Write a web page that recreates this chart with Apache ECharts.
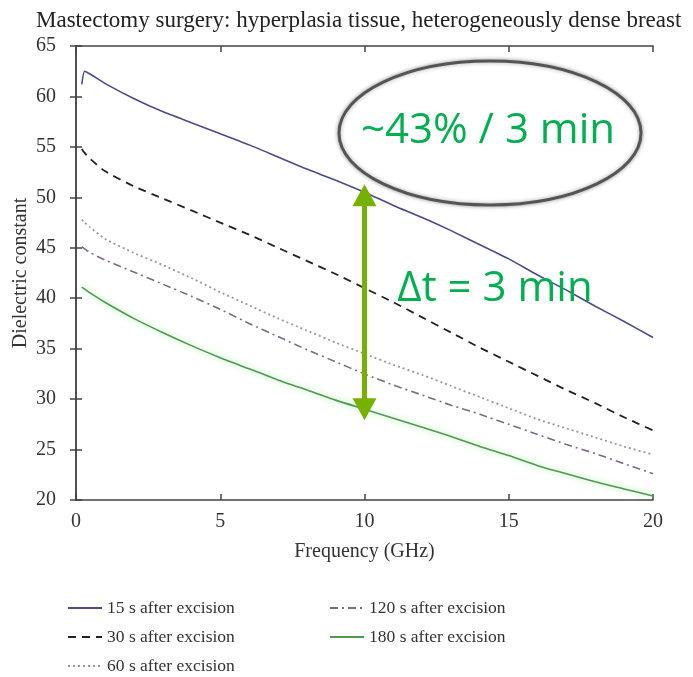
<!DOCTYPE html>
<html>
<head>
<meta charset="utf-8">
<script src="https://cdn.jsdelivr.net/npm/echarts@6/dist/echarts.min.js"></script>
<style>
  html, body { margin: 0; padding: 0; background: #fff; }
  #chart { width: 693px; height: 677px; }
</style>
</head>
<body>
<div id="chart"></div>
<script>
// frequency points (GHz)
var freq = [0.2, 0.3, 0.5, 1, 2, 3, 4, 5, 6, 7, 8, 9, 10, 11, 12, 13, 14, 15, 16, 17, 18, 19, 20]
// dielectric constant per time after excision
var s15 = [61.2, 62.5, 62.2, 61.3, 59.8, 58.5, 57.4, 56.3, 55.2, 54.0, 52.8, 51.7, 50.5, 49.2, 48.0, 46.7, 45.3, 43.9, 42.3, 40.8, 39.2, 37.7, 36.1]
var s30 = [54.8, 54.4, 53.8, 52.6, 51.1, 49.9, 48.7, 47.5, 46.3, 45.0, 43.7, 42.4, 41.0, 39.6, 38.1, 36.6, 35.1, 33.7, 32.3, 30.9, 29.6, 28.2, 26.9]
var s60 = [47.8, 47.5, 47.0, 45.9, 44.5, 43.3, 42.0, 40.6, 39.3, 38.0, 36.8, 35.6, 34.5, 33.4, 32.4, 31.3, 30.2, 29.1, 28.0, 27.1, 26.2, 25.3, 24.5]
var s120 = [45.1, 44.9, 44.5, 43.8, 42.6, 41.4, 40.2, 38.9, 37.5, 36.2, 34.9, 33.7, 32.5, 31.4, 30.4, 29.4, 28.5, 27.5, 26.5, 25.5, 24.6, 23.6, 22.6]
var s180 = [41.1, 40.9, 40.5, 39.6, 38.0, 36.6, 35.3, 34.1, 33.0, 31.9, 30.9, 29.9, 29.0, 28.1, 27.2, 26.3, 25.3, 24.4, 23.4, 22.6, 21.8, 21.1, 20.4]
var names = ['15 s after excision', '30 s after excision', '60 s after excision', '120 s after excision', '180 s after excision']
// arrow between 15 s and 180 s curves at 10 GHz
var arrowX = 10
var arrowFrom = 50.2
var arrowTo = 29.0

var serif = '"Liberation Serif", "DejaVu Serif", serif'

function pairs(ys) {
  return freq.map(function (f, i) { return [f, ys[i]] })
}

var chart = echarts.init(document.getElementById('chart'))

var axisCommon = {
  type: 'value',
  axisLine: { show: true, lineStyle: { color: '#444', width: 1.5 } },
  axisTick: { show: true, inside: true, length: 6, lineStyle: { color: '#444', width: 1.5 } },
  splitLine: { show: false }
}

var legendCommon = {
  orient: 'vertical',
  top: 599,
  height: 100,
  padding: 0,
  itemWidth: 34,
  itemHeight: 14,
  itemGap: 11,
  itemStyle: { opacity: 0 },
  textStyle: { fontFamily: serif, fontSize: 17.5, color: '#333' }
}

chart.setOption({
  backgroundColor: '#fff',
  animation: false,
  title: {
    text: 'Mastectomy surgery: hyperplasia tissue, heterogeneously dense breast',
    left: 31,
    top: 4,
    textStyle: { fontFamily: serif, fontSize: 23, fontWeight: 'normal', color: '#222' }
  },
  grid: { left: 76, top: 46, right: 40, bottom: 177, outerBoundsMode: 'none' },
  legend: [
    Object.assign({}, legendCommon, { data: names.slice(0, 3), left: 67 }),
    Object.assign({}, legendCommon, { data: names.slice(3), left: 329 })
  ],
  xAxis: [Object.assign({}, axisCommon, {
    min: 0, max: 20, interval: 5,
    name: 'Frequency (GHz)',
    nameLocation: 'middle',
    nameGap: 42,
    nameMoveOverlap: false,
    nameTextStyle: { fontFamily: serif, fontSize: 20, color: '#333' },
    axisLabel: { fontFamily: serif, fontSize: 20, color: '#333', margin: 12 }
  }), Object.assign({}, axisCommon, {
    min: 0, max: 20, interval: 5, position: 'top',
    axisLabel: { show: false }
  })],
  yAxis: [Object.assign({}, axisCommon, {
    min: 20, max: 65, interval: 5,
    name: 'Dielectric constant',
    nameLocation: 'middle',
    nameGap: 45,
    nameMoveOverlap: false,
    nameTextStyle: { fontFamily: serif, fontSize: 20, color: '#333' },
    axisLabel: { fontFamily: serif, fontSize: 20, color: '#333', margin: 20 }
  }), Object.assign({}, axisCommon, {
    min: 20, max: 65, interval: 5, position: 'right',
    axisLabel: { show: false }
  })],
  series: [{
    name: names[0], type: 'line', data: pairs(s15), symbol: 'none', smooth: 0.2,
    lineStyle: { color: '#4a4a8c', width: 1.6 }, itemStyle: { color: '#4a4a8c' },
    markLine: {
      silent: true,
      symbol: ['triangle', 'triangle'],
      symbolSize: [24, 22],
      label: { show: false },
      lineStyle: { color: '#76b100', width: 5, type: 'solid' },
      itemStyle: { color: '#76b100' },
      data: [[{ coord: [arrowX, arrowFrom] }, { coord: [arrowX, arrowTo] }]]
    }
  }, {
    name: names[1], type: 'line', data: pairs(s30), symbol: 'none', smooth: 0.2,
    lineStyle: { color: '#222', width: 1.8, type: [8, 6] }, itemStyle: { color: '#222' }
  }, {
    name: names[2], type: 'line', data: pairs(s60), symbol: 'none', smooth: 0.2,
    lineStyle: { color: '#999', width: 1.8, type: [2, 3] }, itemStyle: { color: '#999' }
  }, {
    name: names[3], type: 'line', data: pairs(s120), symbol: 'none', smooth: 0.2,
    lineStyle: { color: '#7e6a84', width: 1.6, type: [8, 4, 2, 4] }, itemStyle: { color: '#7e6a84' }
  }, {
    name: names[4], type: 'line', data: pairs(s180), symbol: 'none', smooth: 0.2,
    lineStyle: { color: '#4f9a4f', width: 1.6, shadowColor: 'rgba(80,220,80,0.6)', shadowBlur: 6 },
    itemStyle: { color: '#6cc36c' }
  }],
  graphic: [{
    type: 'ellipse',
    shape: { cx: 490, cy: 133, rx: 151, ry: 72 },
    style: { fill: '#fff', stroke: '#555', lineWidth: 3, shadowColor: 'rgba(0,0,0,0.35)', shadowBlur: 4 },
    z: 100
  }, {
    type: 'text',
    x: 488, y: 131,
    style: {
      text: '~43% / 3 min', fill: '#00b050',
      font: '42px "Open Sans", "Noto Sans", sans-serif',
      textAlign: 'center', textVerticalAlign: 'middle'
    },
    z: 101
  }, {
    type: 'text',
    x: 495, y: 289,
    style: {
      text: 'Δt = 3 min', fill: '#00b050',
      font: '42px "Open Sans", "Noto Sans", sans-serif',
      textAlign: 'center', textVerticalAlign: 'middle'
    },
    z: 101
  }]
})
</script>
</body>
</html>
